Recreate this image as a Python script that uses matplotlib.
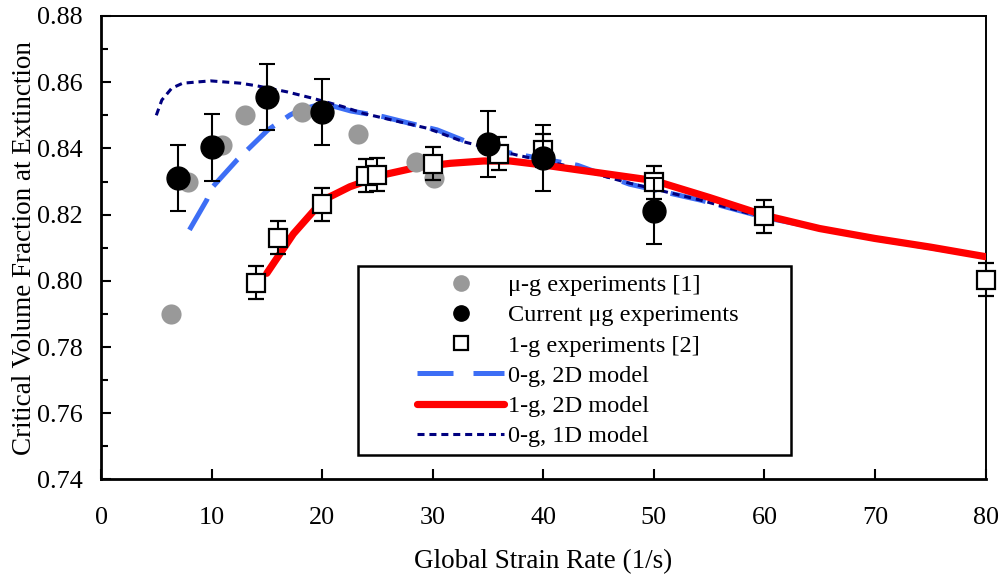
"""
Critical volume fraction at extinction versus global strain rate:
micro-gravity and 1-g experiments compared with the 1D and 2D models.
"""

import matplotlib
matplotlib.use("Agg")
import matplotlib.pyplot as plt
from matplotlib.lines import Line2D
from matplotlib.patches import Rectangle

# ---- data -------------------------------------------------------------
# mu-g experiments [1]
ug_ref_rate = [6.3, 7.9, 10.9, 13.0, 18.15, 23.2, 28.5, 30.1]
ug_ref_frac = [0.790, 0.830, 0.841, 0.850, 0.851, 0.8445, 0.836, 0.831]

# current mu-g experiments
ug_cur_rate = [7, 10, 15, 20, 35, 40, 50]
ug_cur_frac = [0.831, 0.8403, 0.8555, 0.851, 0.8413, 0.837, 0.821]
ug_cur_err = [0.01, 0.01, 0.01, 0.01, 0.01, 0.01, 0.01]

# 1-g experiments [2]
g1_rate = [14, 16, 20, 24, 25, 30, 36, 40, 50, 60, 80]
g1_frac = [0.7995, 0.813, 0.8231, 0.8318, 0.832, 0.8354, 0.8384, 0.8394,
           0.8298, 0.8195, 0.8003]
g1_err = [0.005] * 11

# 0-g, 2D model
m2d_0g_rate = [8.0, 9.56, 10.0, 12.3, 15.1, 17.1, 18.0, 20.1, 22.6, 25.5,
               27.9, 30.4, 33.1, 36.4, 38.2, 43.1, 47.8, 54.2, 60.2, 69.8, 80.0]
m2d_0g_frac = [0.8154, 0.8244, 0.828, 0.8365, 0.8456, 0.8501, 0.8516, 0.8536,
               0.8513, 0.8496, 0.8476, 0.8456, 0.842, 0.839, 0.8379, 0.8349,
               0.8292, 0.8244, 0.819, 0.8128, 0.8073]

# 1-g, 2D model
m2d_1g_rate = [15.0, 17.4, 20.1, 22.5, 25.5, 28.6, 31.6, 34.6, 37.0, 40.0,
               45.1, 50.0, 55.0, 60.0, 65.0, 70.0, 75.0, 80.0]
m2d_1g_frac = [0.8023, 0.8142, 0.8244, 0.8284, 0.832, 0.8343, 0.8355, 0.8362,
               0.8362, 0.835, 0.8326, 0.8303, 0.8252, 0.8198, 0.8158, 0.8128,
               0.8102, 0.8073]

# 0-g, 1D model
m1d_0g_rate = [5.0, 5.5, 6.4, 7.4, 9.9, 12.6, 14.1, 16.8, 19.2, 21.9, 23.7,
               29.5, 32.8, 37.6, 41.8, 47.8, 54.2, 60.2, 69.8, 80.0]
m1d_0g_frac = [0.850, 0.8546, 0.8582, 0.8597, 0.8604, 0.8597, 0.8589, 0.8571,
               0.8551, 0.8526, 0.8506, 0.8461, 0.842, 0.838, 0.835, 0.8295,
               0.8244, 0.8189, 0.8129, 0.8073]

legend_labels = ["\u03bc-g experiments [1]", "Current \u03bcg experiments",
                 "1-g experiments [2]", "0-g, 2D model", "1-g, 2D model",
                 "0-g, 1D model"]

# ---- style ------------------------------------------------------------
GRAY = "#999999"
BLUE = "#3D6EF5"
RED = "#FF0000"
NAVY = "#00007F"
FS = 17.5        # legend text
FS_TICK = 18.8   # tick labels
FS_LABEL = 19.5  # axis titles

plt.rcParams["font.family"] = ["Liberation Serif", "DejaVu Serif"]
plt.rcParams["font.size"] = FS

fig = plt.figure(figsize=(10.03, 5.81), dpi=100)
ax = fig.add_axes([0.1007, 0.1747, 0.8819, 0.7978])

# model curves
ax.plot(m2d_0g_rate, m2d_0g_frac, color=BLUE, lw=3.6,
        linestyle=(0, (7.2, 2.8)), zorder=2)
ax.plot(m1d_0g_rate, m1d_0g_frac, color=NAVY, lw=2.2,
        linestyle=(0, (2.3, 1.6)), zorder=3)
ax.plot(m2d_1g_rate, m2d_1g_frac, color=RED, lw=5.2,
        solid_capstyle="round", zorder=3.5)

# experiments
ax.plot(ug_ref_rate, ug_ref_frac, "o", color=GRAY, ms=14.5, mec="none",
        zorder=4)
g1_bars = ax.errorbar(g1_rate, g1_frac, yerr=g1_err, fmt="s", ms=12.5,
                      mfc="white", mec="black", mew=1.6, ecolor="black",
                      elinewidth=1.5, capsize=5.5, capthick=1.5, zorder=5)
ug_bars = ax.errorbar(ug_cur_rate, ug_cur_frac, yerr=ug_cur_err, fmt="o",
                      ms=16.5, color="black", ecolor="black", elinewidth=1.5,
                      capsize=5.8, capthick=1.5, zorder=6)
for container in (g1_bars, ug_bars):
    for artist in container.get_children():
        artist.set_clip_on(False)

# axes
ax.set_xlim(0, 80)
ax.set_ylim(0.74, 0.88)
ax.set_xticks(range(0, 81, 10))
ax.set_yticks([0.74 + 0.02 * i for i in range(8)])
ax.set_yticklabels([f"{0.74 + 0.02 * i:.2f}" for i in range(8)])
ax.set_yticks([0.75 + 0.02 * i for i in range(7)], minor=True)
ax.tick_params(axis="both", which="major", direction="in", length=7,
               width=1.5, labelsize=FS_TICK)
ax.tick_params(axis="y", which="minor", direction="in", length=5, width=1.5)
ax.tick_params(axis="y", pad=13)
ax.tick_params(axis="x", pad=20)
for side in ("left", "bottom"):
    ax.spines[side].set_linewidth(2.0)
for side in ("top", "right"):
    ax.spines[side].set_linewidth(1.4)

ax.set_xlabel("Global Strain Rate (1/s)", fontsize=FS_LABEL, labelpad=14)
ax.set_ylabel("Critical Volume Fraction at Extinction", fontsize=FS_LABEL,
              labelpad=0)

# legend with its own frame
frame = Rectangle((0.3569, 0.2169), 0.4317, 0.3258, transform=fig.transFigure,
                  facecolor="white", edgecolor="black", lw=1.8, zorder=8)
ax.add_artist(frame)
frame.set_clip_on(False)

handles = [
    Line2D([], [], marker="o", ls="none", color=GRAY, mec="none", ms=12),
    Line2D([], [], marker="o", ls="none", color="black", ms=11),
    Line2D([], [], marker="s", ls="none", mfc="white", mec="black", mew=1.6,
           ms=10),
    Line2D([], [], color=BLUE, lw=3.6, linestyle=(0, (7.2, 4.0))),
    Line2D([], [], color=RED, lw=5.2, solid_capstyle="round"),
    Line2D([], [], color=NAVY, lw=2.2, linestyle=(0, (2.3, 1.6))),
]
leg = ax.legend(handles, legend_labels, loc="upper left",
                bbox_to_anchor=(417 / 1003, 1 - 274 / 581),
                bbox_transform=fig.transFigure, frameon=False, borderpad=0,
                borderaxespad=0, handlelength=3.58, handletextpad=0.15,
                labelspacing=0.34, fontsize=FS)
leg.set_zorder(9)

fig.savefig("out.png", dpi=100)
